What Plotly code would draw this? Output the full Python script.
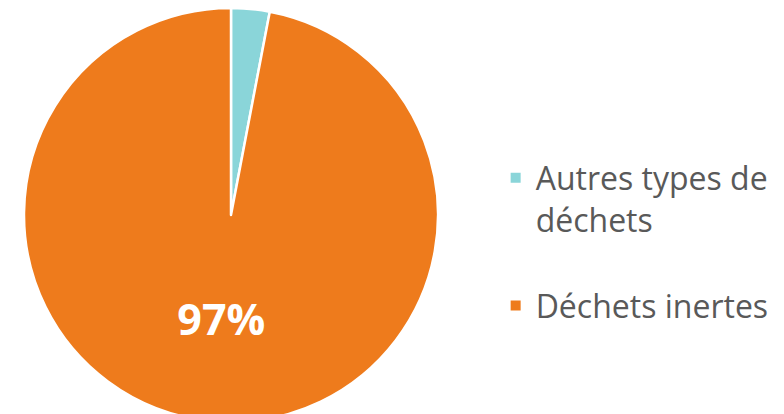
import plotly.graph_objects as go

# Données
categories = ["Autres types de<br>déchets<br> ", "Déchets inertes"]
valeurs = [3, 97]
couleurs = ["#8AD5D9", "#EE7B1C"]
etiquettes = ["", "%{percent:.0%}"]

fig = go.Figure(
    go.Pie(
        labels=categories,
        values=valeurs,
        sort=False,
        direction="clockwise",
        rotation=0,
        marker=dict(colors=couleurs, line=dict(color="white", width=2.5)),
        texttemplate=etiquettes,
        textposition="inside",
        insidetextorientation="horizontal",
        textfont=dict(family="Open Sans, sans-serif", size=43, color="white", weight="bold"),
        domain=dict(x=[14 / 784, 432 / 784], y=[0, 1]),
        hoverinfo="label+percent",
    )
)

fig.update_layout(
    width=784,
    height=414,
    margin=dict(l=0, r=0, t=0, b=0, autoexpand=False),
    paper_bgcolor="white",
    plot_bgcolor="white",
    showlegend=True,
    legend=dict(
        x=0.622,
        xanchor="left",
        y=0.656,
        yanchor="top",
        valign="top",
        font=dict(family="Open Sans, sans-serif", size=32, color="#595959"),
        itemsizing="constant",
    ),
)

fig.write_html("out.html")
